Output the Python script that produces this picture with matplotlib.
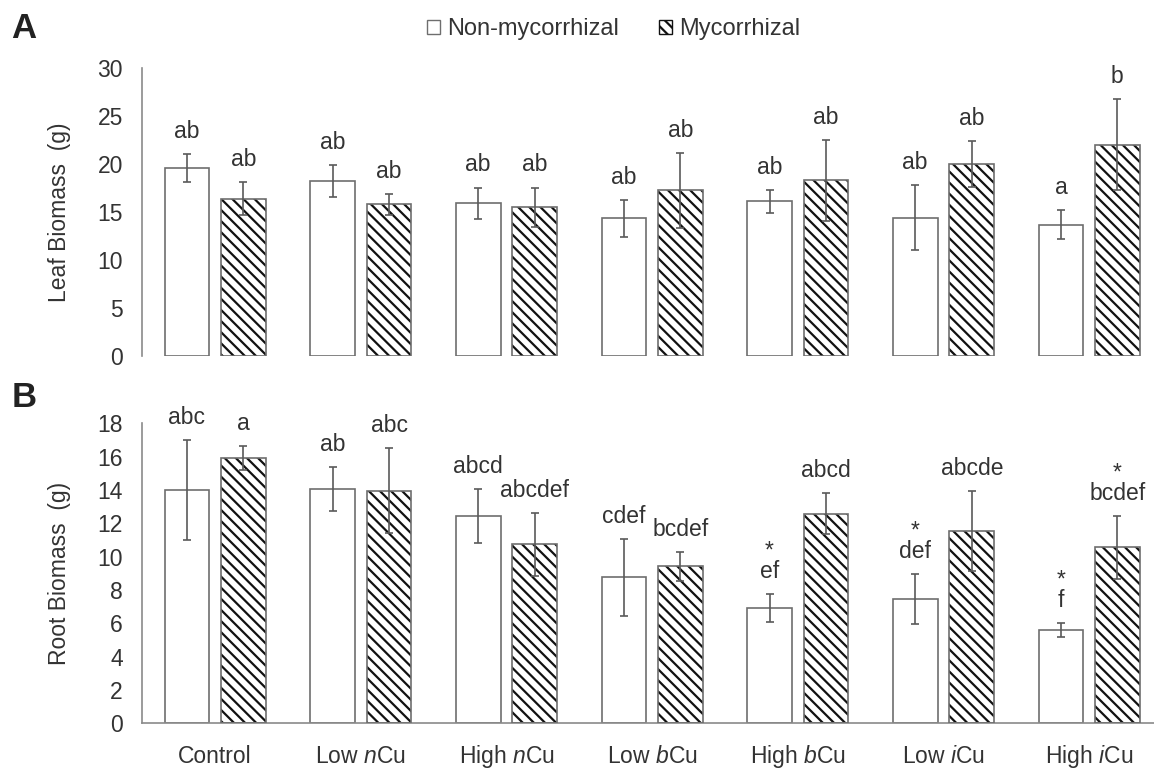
import matplotlib
matplotlib.use('Agg')
import matplotlib.pyplot as plt
from matplotlib.patches import Patch
import numpy as np

plt.rcParams['font.family'] = ['Liberation Sans', 'DejaVu Sans']
plt.rcParams['mathtext.fontset'] = 'custom'
plt.rcParams['mathtext.rm'] = 'Liberation Sans'
plt.rcParams['mathtext.it'] = 'Liberation Sans:italic'
plt.rcParams['hatch.linewidth'] = 1.6

groups = ['Control', 'Low $\\mathit{n}$Cu', 'High $\\mathit{n}$Cu', 'Low $\\mathit{b}$Cu',
          'High $\\mathit{b}$Cu', 'Low $\\mathit{i}$Cu', 'High $\\mathit{i}$Cu']

# panel A - leaf biomass
leaf_nonmyc = [19.6, 18.25, 15.9, 14.35, 16.1, 14.4, 13.7]
leaf_nonmyc_err = [1.45, 1.65, 1.65, 1.9, 1.15, 3.4, 1.5]
leaf_myc = [16.4, 15.8, 15.5, 17.25, 18.3, 20.0, 22.0]
leaf_myc_err = [1.75, 1.1, 2.05, 3.9, 4.2, 2.4, 4.75]
leaf_nonmyc_lbl = ['ab', 'ab', 'ab', 'ab', 'ab', 'ab', 'a']
leaf_myc_lbl = ['ab', 'ab', 'ab', 'ab', 'ab', 'ab', 'b']

# panel B - root biomass
root_nonmyc = [14.0, 14.08, 12.46, 8.76, 6.9, 7.48, 5.6]
root_nonmyc_err = [3.0, 1.32, 1.62, 2.32, 0.84, 1.5, 0.44]
root_myc = [15.92, 13.96, 10.74, 9.42, 12.58, 11.56, 10.56]
root_myc_err = [0.7, 2.54, 1.9, 0.88, 1.22, 2.4, 1.9]
root_nonmyc_lbl = ['abc', 'ab', 'abcd', 'cdef', '*\nef', '*\ndef', '*\nf']
root_myc_lbl = ['a', 'abc', 'abcdef', 'bcdef', 'abcd', 'abcde', '*\nbcdef']

TXT = '#333333'
EDGE = '#6e6e6e'
ERR = '#5a5a5a'
SPINE = '#8a8a8a'
W = 0.306
OFF = 0.194
FS = 16.5


def draw_panel(ax, nonmyc, nonmyc_err, myc, myc_err, lbl_n, lbl_m, ymax, step, ylabel):
	x = np.arange(len(groups))
	ax.bar(x - OFF, nonmyc, W, color='white', edgecolor=EDGE, linewidth=1.2, zorder=2)
	ax.bar(x + OFF, myc, W, color='white', edgecolor='#111111', linewidth=0, hatch='\\\\\\', zorder=2)
	ax.bar(x + OFF, myc, W, fill=False, edgecolor=EDGE, linewidth=1.2, zorder=3)
	ax.errorbar(x - OFF, nonmyc, yerr=nonmyc_err, fmt='none', ecolor=ERR, elinewidth=1.2,
				capsize=3, capthick=1.2, zorder=4)
	ax.errorbar(x + OFF, myc, yerr=myc_err, fmt='none', ecolor=ERR, elinewidth=1.2,
				capsize=3, capthick=1.2, zorder=4)

	for xi, v, e, t in zip(x - OFF, nonmyc, nonmyc_err, lbl_n):
		ax.annotate(t, (xi, v + e), xytext=(0, 8), textcoords='offset points', ha='center',
					va='bottom', fontsize=FS, color=TXT, linespacing=0.85)
	for xi, v, e, t in zip(x + OFF, myc, myc_err, lbl_m):
		ax.annotate(t, (xi, v + e), xytext=(0, 8), textcoords='offset points', ha='center',
					va='bottom', fontsize=FS, color=TXT, linespacing=0.85)

	ax.set_xlim(-0.5, 6.445)
	ax.set_ylim(0, ymax)
	ax.set_yticks(np.arange(0, ymax + 0.1, step))
	ax.tick_params(axis='y', length=0, pad=14, labelsize=FS, labelcolor=TXT)
	ax.tick_params(axis='x', length=0, pad=28.5, labelsize=FS, labelcolor=TXT)
	ax.set_ylabel(ylabel, fontsize=FS, color=TXT, labelpad=19)
	for s in ['top', 'right']:
		ax.spines[s].set_visible(False)
	ax.spines['left'].set_color(SPINE)
	ax.spines['bottom'].set_color(SPINE)
	ax.spines['left'].set_linewidth(1.2)
	ax.spines['bottom'].set_linewidth(1.2)


fig = plt.figure(figsize=(11.54, 7.69), dpi=100)
axA = fig.add_axes([0.1233, 0.537, 0.8767, 0.3745])
axB = fig.add_axes([0.1233, 0.0594, 0.8767, 0.3901])

draw_panel(axA, leaf_nonmyc, leaf_nonmyc_err, leaf_myc, leaf_myc_err,
		   leaf_nonmyc_lbl, leaf_myc_lbl, 30, 5, 'Leaf Biomass  (g)')
axA.spines['bottom'].set_visible(False)
axA.set_xticks([])

draw_panel(axB, root_nonmyc, root_nonmyc_err, root_myc, root_myc_err,
		   root_nonmyc_lbl, root_myc_lbl, 18, 2, 'Root Biomass  (g)')
axB.set_xticks(np.arange(len(groups)))
axB.set_xticklabels(groups, va='baseline')

fig.text(0.010, 0.985, 'A', fontsize=25, fontweight='bold', color='#222222', va='top')
fig.text(0.010, 0.505, 'B', fontsize=25, fontweight='bold', color='#222222', va='top')

handles = [Patch(facecolor='white', edgecolor=EDGE, linewidth=1.0),
		   Patch(facecolor='white', edgecolor='#111111', hatch='\\\\\\', linewidth=1.0)]
fig.legend(handles, ['Non-mycorrhizal', 'Mycorrhizal'], loc='center', bbox_to_anchor=(0.532, 0.962),
		   ncol=2, frameon=False, fontsize=17, handlelength=0.55, handleheight=0.55,
		   handletextpad=0.3, columnspacing=1.7, labelcolor=TXT)

fig.savefig('out.png', dpi=100)
